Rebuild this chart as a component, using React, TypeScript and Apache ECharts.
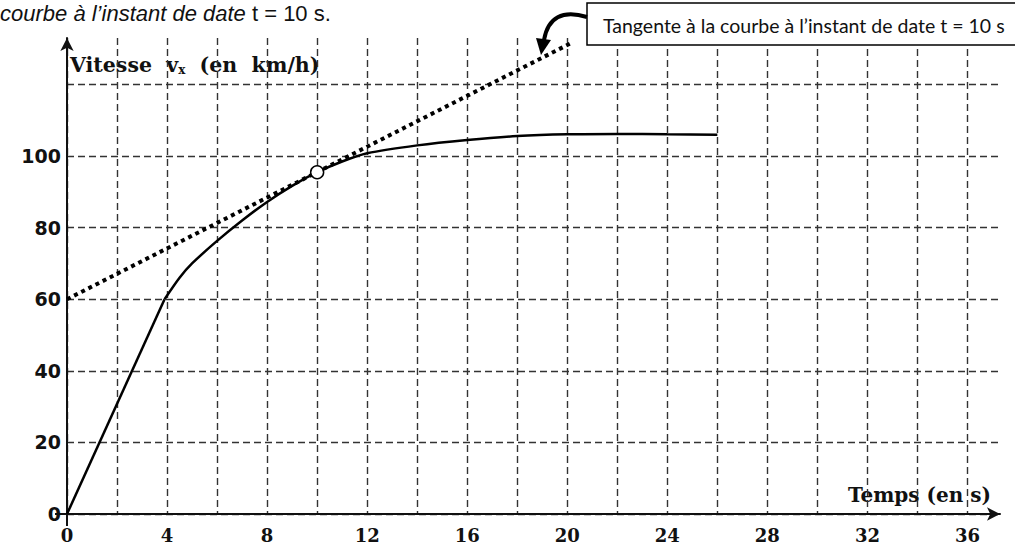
import { useEffect, useRef } from "react";
import * as echarts from "echarts";

// Data
const rampT = [0, 3.9];
const rampV = [0, 60];
const curveT = [3.9, 4.5, 5, 6, 7, 8, 9, 10, 11, 12, 14, 16, 18, 20, 22, 24, 26];
const curveV = [60, 66, 70, 76.3, 82, 87.2, 91.7, 95.5, 98.5, 100.8, 103, 104.5, 105.6, 106.1, 106.2, 106.1, 106];
const tangentT = [0, 20.1];
const tangentV = [60, 131.4];
const pointT = [10];
const pointV = [95.5];
const xMax = 37.3;
const yMax = 133;
const xStep = 2;
const xLabelStep = 4;
const xLastLabel = 36;
const yStep = 20;
const yLastLabel = 100;

const zip = (a: number[], b: number[]) => a.map((v, i) => [v, b[i]]);

const gridLine = { type: [7, 4] as number[], color: "#333", width: 1.4 };

export default function App() {
  const ref = useRef<HTMLDivElement>(null);
  useEffect(() => {
    if (!ref.current) return;
    const chart = echarts.init(ref.current, null, { renderer: "svg" });
    chart.setOption({
      animation: false,
      backgroundColor: "#fff",
      grid: { left: 67, right: 15, top: 38, bottom: 33, containLabel: false },
      xAxis: {
        type: "value",
        min: 0,
        max: xMax,
        interval: xStep,
        axisLine: { show: true, symbol: ["none", "arrow"], symbolSize: [10, 13], lineStyle: { color: "#111", width: 2 } },
        axisTick: { show: false },
        axisLabel: {
          margin: 11,
          fontFamily: "DejaVu Serif",
          fontWeight: "bold",
          fontSize: 18,
          lineHeight: 20,
          color: "#111",
          showMaxLabel: false,
          formatter: (v: number) => (v % xLabelStep === 0 && v <= xLastLabel ? String(v) : ""),
        },
        splitLine: { show: true, showMaxLine: false, lineStyle: gridLine },
      },
      yAxis: {
        type: "value",
        min: 0,
        max: yMax,
        interval: yStep,
        axisLine: { show: true, symbol: ["none", "arrow"], symbolSize: [10, 13], lineStyle: { color: "#111", width: 2 } },
        axisTick: { show: false },
        axisLabel: {
          margin: 6,
          fontFamily: "DejaVu Sans",
          fontWeight: "bold",
          fontSize: 19,
          color: "#111",
          showMaxLabel: false,
          formatter: (v: number) => (v % yStep === 0 && v <= yLastLabel ? String(v) : ""),
        },
        splitLine: { show: true, showMaxLine: false, lineStyle: gridLine },
      },
      series: [
        {
          type: "line",
          data: zip(tangentT, tangentV),
          symbol: "none",
          lineStyle: { color: "#000", width: 4, type: [4, 4] },
          z: 3,
        },
        {
          type: "line",
          data: zip(rampT, rampV),
          symbol: "none",
          lineStyle: { color: "#000", width: 2.5 },
          z: 4,
        },
        {
          type: "line",
          data: zip(curveT, curveV),
          symbol: "none",
          smooth: 0.25,
          lineStyle: { color: "#000", width: 2.5 },
          z: 4,
        },
        {
          type: "scatter",
          data: zip(pointT, pointV),
          symbol: "circle",
          symbolSize: 13,
          itemStyle: { color: "#fff", borderColor: "#000", borderWidth: 1.5, opacity: 1 },
          z: 5,
        },
      ],
      graphic: [
        {
          type: "line",
          shape: { x1: 55, y1: 514, x2: 67, y2: 514 },
          style: { stroke: "#111", lineWidth: 2 },
        },
        {
          type: "line",
          shape: { x1: 67, y1: 514, x2: 67, y2: 526 },
          style: { stroke: "#111", lineWidth: 2 },
        },
        {
          type: "text",
          x: 0,
          y: 1,
          style: {
            text: "{i|courbe à l’instant de date}{n| t = 10 s.}",
            verticalAlign: "top",
            rich: {
              i: { fontFamily: "Liberation Sans", fontStyle: "italic", fontSize: 22, lineHeight: 24, fill: "#111" },
              n: { fontFamily: "Liberation Sans", fontSize: 22, lineHeight: 24, fill: "#111" },
            },
          },
        },
        {
          type: "text",
          x: 70,
          y: 65,
          style: {
            text: "{a|Vitesse  v}{s|x}{a|  (en  km/h)}",
            verticalAlign: "middle",
            rich: {
              a: { fontFamily: "DejaVu Serif", fontWeight: "bold", fontSize: 20.5, fill: "#111" },
              s: { fontFamily: "DejaVu Serif", fontWeight: "bold", fontSize: 12, fill: "#111", verticalAlign: "bottom", padding: [7, 0, 0, 0] },
            },
          },
        },
        {
          type: "text",
          x: 991,
          y: 495,
          style: {
            text: "Temps (en s)",
            align: "right",
            verticalAlign: "middle",
            fontFamily: "DejaVu Serif",
            fontWeight: "bold",
            fontSize: 20,
            fill: "#111",
          },
        },
        {
          type: "rect",
          shape: { x: 587, y: 3, width: 440, height: 42 },
          style: { fill: "#fff", stroke: "#000", lineWidth: 1.5 },
          z: 10,
        },
        {
          type: "text",
          x: 603,
          y: 25,
          z: 11,
          style: {
            text: "Tangente à la courbe à l’instant de date t = 10 s",
            verticalAlign: "middle",
            fontFamily: "Lato",
            fontSize: 19.5,
            fill: "#111",
          },
        },
        {
          type: "bezierCurve",
          shape: { x1: 587, y1: 17, cpx1: 550, cpy1: 6, x2: 544, y2: 40 },
          style: { stroke: "#000", lineWidth: 4, fill: null },
          z: 10,
        },
        {
          type: "polygon",
          shape: { points: [[541, 55], [551, 40], [536, 38]] },
          style: { fill: "#000" },
          z: 10,
        },
      ],
    });
    return () => chart.dispose();
  }, []);
  return <div ref={ref} style={{ position: "absolute", left: 0, top: 0, width: 1015, height: 547 }} />;
}
